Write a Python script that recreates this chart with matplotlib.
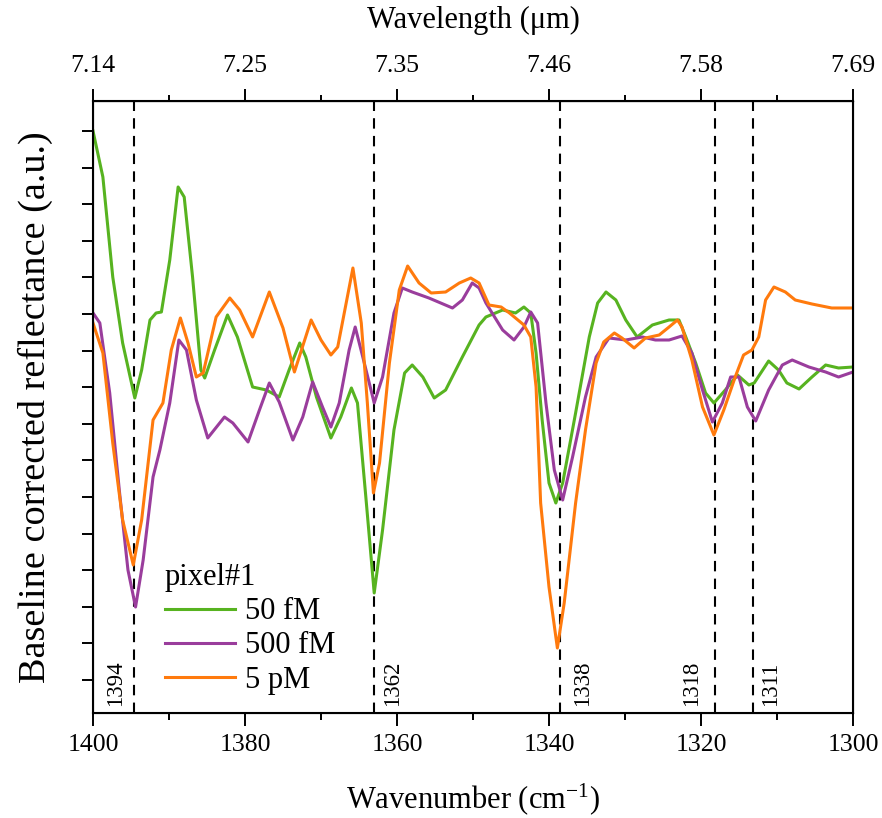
import numpy as np
import matplotlib
matplotlib.use("Agg")
import matplotlib.pyplot as plt

plt.rcParams['font.family'] = ['Liberation Serif', 'DejaVu Serif']
plt.rcParams['mathtext.default'] = 'regular'

# wavenumber (cm-1) and baseline corrected reflectance (a.u.)
wn_50fM = [1400, 1398.7, 1397.4, 1396.1, 1394.5, 1393.6, 1392.5, 1391.7, 1391.0, 1389.9,
           1388.8, 1388.0, 1386.9, 1385.8, 1385.3, 1384.0, 1382.3, 1381.0, 1379.0, 1377.2,
           1375.5, 1374.2, 1372.8, 1372.0, 1370.6, 1368.7, 1367.4, 1366.0, 1365.2, 1364.1,
           1363.0, 1361.9, 1360.4, 1359.0, 1358.0, 1356.6, 1355.1, 1353.6, 1351.4, 1349.2,
           1348.3, 1346.1, 1344.4, 1343.3, 1342.4, 1341.7, 1340.9, 1340.0, 1339.1, 1338.2,
           1336.5, 1334.7, 1333.6, 1332.5, 1331.2, 1329.9, 1328.4, 1326.4, 1324.2, 1322.9,
           1322.0, 1320.7, 1319.4, 1318.3, 1316.8, 1315.2, 1313.7, 1313.0, 1311.1, 1309.8,
           1308.7, 1307.1, 1305.4, 1303.6, 1301.9, 1300]
r_50fM = [582, 536, 436, 370, 315, 343, 393, 400, 401, 453,
          526, 516, 436, 343, 335, 363, 398, 376, 326, 323,
          316, 343, 370, 356, 316, 275, 296, 325, 310, 216,
          120, 183, 283, 340, 348, 336, 315, 323, 356, 388,
          396, 403, 400, 406, 400, 360, 293, 230, 210, 230,
          300, 376, 410, 421, 413, 393, 376, 388, 393, 393,
          376, 350, 320, 310, 323, 338, 328, 330, 352, 343,
          330, 324, 336, 348, 345, 346]

wn_500fM = [1400, 1399.1, 1397.8, 1396.5, 1395.4, 1394.4, 1393.4, 1392.1, 1391.2, 1389.9,
            1388.7, 1387.7, 1386.4, 1384.9, 1382.7, 1381.6, 1379.6, 1378.1, 1376.8, 1375.5,
            1373.7, 1372.4, 1371.1, 1369.8, 1368.7, 1367.6, 1366.3, 1365.5, 1364.5, 1363.0,
            1361.9, 1360.4, 1359.3, 1358.0, 1355.8, 1352.7, 1351.4, 1350.1, 1349.2, 1348.3,
            1346.1, 1344.6, 1343.3, 1342.4, 1341.5, 1340.4, 1339.3, 1338.2, 1336.9, 1335.2,
            1333.8, 1332.1, 1329.9, 1327.7, 1326.0, 1324.2, 1322.5, 1321.2, 1319.8, 1318.5,
            1317.2, 1316.1, 1315.0, 1313.9, 1312.8, 1311.1, 1309.3, 1308.0, 1305.8, 1303.6,
            1301.9, 1300]
r_500fM = [400, 390, 320, 220, 143, 106, 153, 236, 263, 310,
           373, 363, 313, 275, 296, 290, 271, 303, 330, 311,
           273, 296, 331, 306, 286, 310, 363, 386, 356, 310,
           336, 400, 425, 421, 415, 405, 413, 430, 425, 410,
           383, 373, 386, 401, 390, 310, 243, 213, 256, 316,
           356, 375, 373, 376, 373, 373, 377, 360, 323, 291,
           310, 336, 336, 306, 292, 323, 348, 353, 346, 341,
           336, 341]

wn_5pM = [1400, 1398.7, 1397.4, 1396.1, 1394.7, 1393.6, 1392.1, 1390.8, 1389.7, 1388.5,
          1387.5, 1386.4, 1385.5, 1383.8, 1382.0, 1380.7, 1379.0, 1376.8, 1375.0, 1373.5,
          1371.3, 1370.0, 1368.7, 1367.8, 1365.8, 1364.7, 1363.9, 1363.1, 1362.3, 1361.0,
          1359.7, 1358.6, 1357.1, 1355.5, 1353.6, 1351.8, 1350.3, 1349.2, 1347.9, 1346.3,
          1345.2, 1343.3, 1342.4, 1341.7, 1341.1, 1340.0, 1338.9, 1338.0, 1336.5, 1335.2,
          1333.8, 1332.8, 1331.4, 1330.4, 1328.8, 1327.3, 1325.5, 1324.2, 1323.1, 1322.5,
          1321.2, 1319.8, 1318.3, 1317.0, 1315.5, 1314.4, 1313.3, 1312.4, 1311.5, 1310.4,
          1308.9, 1307.6, 1305.4, 1302.8, 1300]
r_5pM = [390, 360, 270, 193, 148, 193, 293, 310, 363, 395,
         370, 336, 340, 396, 415, 403, 376, 421, 385, 341,
         393, 373, 358, 366, 445, 390, 310, 220, 250, 350,
         423, 447, 430, 420, 421, 430, 435, 430, 408, 406,
         400, 388, 376, 326, 210, 126, 65, 110, 210, 283,
         350, 371, 380, 375, 365, 375, 378, 386, 393, 386,
         353, 306, 278, 303, 336, 358, 363, 376, 413, 426,
         421, 413, 409, 405, 405]

series_labels = ['50 fM', '500 fM', '5 pM']
legend_title = 'pixel#1'

peak_lines = [1394.6, 1363.0, 1338.5, 1318.2, 1313.2]
peak_labels = ['1394', '1362', '1338', '1318', '1311']
peak_label_x = [1397.0, 1360.6, 1335.6, 1321.2, 1310.8]

wn_ticks = [1400, 1380, 1360, 1340, 1320, 1300]
wn_minor = [1390, 1370, 1350, 1330, 1310]

colors = ['#57B320', '#9A3D9C', '#FF7A0D']

fig = plt.figure(figsize=(8.82, 8.18), dpi=100)
ax = fig.add_axes([93 / 882, 1 - 713 / 818, 760 / 882, 612 / 818])

for wn, r, c, lab in zip([wn_50fM, wn_500fM, wn_5pM], [r_50fM, r_500fM, r_5pM],
                         colors, series_labels):
    ax.plot(wn, r, color=c, lw=2.2, label=lab, solid_joinstyle='round')

for p in peak_lines:
    ax.axvline(p, color='black', lw=1.5, ls=(0, (5, 3.5)), zorder=1)
for lx, lab in zip(peak_label_x, peak_labels):
    ax.text(lx, 7, lab, rotation=90, ha='center', va='bottom', fontsize=16.5)

ax.set_xlim(1400, 1300)
ax.set_ylim(0, 612)
ax.set_xticks(wn_ticks)
ax.set_xticks(wn_minor, minor=True)
ax.set_yticks(np.arange(582, 0, -36.6))
ax.set_yticklabels([])
ax.tick_params(axis='x', which='major', direction='out', length=9, width=1.4,
               labelsize=18.5, pad=6)
ax.tick_params(axis='x', which='minor', direction='out', length=5, width=1.4)
ax.tick_params(axis='y', which='major', direction='out', length=8, width=1.4)
for s in ax.spines.values():
    s.set_linewidth(1.5)

ax.set_xlabel('Wavenumber (cm$^{-1}$)', fontsize=22, labelpad=18)
ax.set_ylabel('Baseline corrected reflectance (a.u.)', fontsize=27.5, labelpad=17)

# top wavelength axis
ax2 = ax.twiny()
ax2.set_xlim(1400, 1300)
ax2.set_xticks(wn_ticks)
ax2.set_xticklabels([f'{10000 / w:.2f}' for w in wn_ticks])
ax2.set_xticks(wn_minor, minor=True)
ax2.tick_params(axis='x', which='major', direction='out', length=9, width=1.4,
                labelsize=18.5, pad=8)
ax2.tick_params(axis='x', which='minor', direction='out', length=4, width=1.4)
ax2.set_xlabel('Wavelength (\u03bcm)', fontsize=22, labelpad=20)

# inward ticks on top at the marked peaks
ax3 = ax.secondary_xaxis('top')
ax3.set_xticks(peak_lines)
ax3.set_xticklabels([])
ax3.tick_params(axis='x', direction='in', length=7, width=1.4)

leg = ax.legend(title=legend_title, loc='upper left', bbox_to_anchor=(0.074, 0.27),
                frameon=False, fontsize=22, title_fontsize=22, handlelength=2.3,
                handletextpad=0.35, labelspacing=0.17, borderpad=0, alignment='left')

fig.savefig('out.png', dpi=100)
